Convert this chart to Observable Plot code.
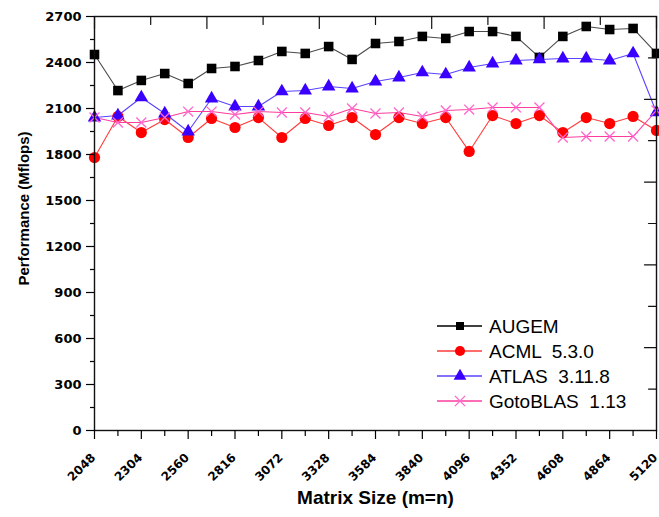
<!DOCTYPE html>
<html>
<head>
<meta charset="utf-8">
<script src="https://cdn.jsdelivr.net/npm/d3@7"></script>
<script src="https://cdn.jsdelivr.net/npm/@observablehq/plot@0.6"></script>
<style>
  html, body { margin: 0; padding: 0; background: #fff; }
  #wrap { position: relative; width: 659px; height: 517px; }
  #legend { position: absolute; left: 0; top: 0; pointer-events: none; }
</style>
</head>
<body>
<div id="wrap"></div>
<script>
// Matrix sizes (m=n)
const sizes = [2048, 2176, 2304, 2432, 2560, 2688, 2816, 2944, 3072, 3200, 3328, 3456, 3584,
               3712, 3840, 3968, 4096, 4224, 4352, 4480, 4608, 4736, 4864, 4992, 5120];
// Performance in Mflops
const augem = [2452, 2217, 2283, 2328, 2263, 2361, 2374, 2413, 2472, 2459, 2504, 2420, 2524,
               2537, 2570, 2557, 2602, 2602, 2570, 2433, 2570, 2635, 2615, 2622, 2459];
const acml  = [1780, 2048, 1943, 2028, 1911, 2035, 1976, 2041, 1911, 2035, 1989, 2041, 1930,
               2041, 2002, 2041, 1820, 2054, 2002, 2054, 1943, 2041, 2002, 2048, 1957];
const atlas = [2041, 2054, 2172, 2067, 1950, 2165, 2113, 2113, 2211, 2217, 2243, 2230, 2276,
               2302, 2335, 2322, 2367, 2393, 2413, 2420, 2426, 2426, 2413, 2459, 2074];
const gotoblas = [2041, 2009, 2009, 2041, 2080, 2080, 2061, 2080, 2074, 2074, 2048, 2100, 2067,
               2074, 2048, 2087, 2093, 2107, 2107, 2107, 1911, 1917, 1917, 1917, 2087];

const seriesNames = ["AUGEM", "ACML  5.3.0", "ATLAS  3.11.8", "GotoBLAS  1.13"];
const seriesValues = [augem, acml, atlas, gotoblas];
const lineColors = ["#4a4a4a", "#ff3b3b", "#5a44ff", "#ff3d9e"];
const markColors = ["#000000", "#ff0000", "#3a00ff", "#ff66cc"];
const symbols = ["square", "circle", "triangle", "times"];

const xTicks = d3.range(2048, 5120 + 1, 256);
const xMinor = d3.range(2048 + 128, 5120, 256);
const yTicks = d3.range(0, 2700 + 1, 300);
const yMinor = d3.range(150, 2700, 300);
const xTop = d3.range(0, 11).map(i => 2048 + i * 307.2);
const yRight = d3.range(0, 11).map(i => i * 270);

const data = seriesNames.flatMap((name, k) =>
  sizes.map((s, i) => ({series: name, k, size: s, value: seriesValues[k][i]})));

const tickShape = {draw(context, l) { context.moveTo(0, 0); context.lineTo(0, -l); }};

const marks = [];
seriesNames.forEach((name, k) => {
  const d = data.filter(r => r.k === k);
  marks.push(Plot.line(d, {x: "size", y: "value", stroke: lineColors[k], strokeWidth: 1.1}));
});
seriesNames.forEach((name, k) => {
  const d = data.filter(r => r.k === k);
  const sym = symbols[k];
  if (sym === "times") {
    marks.push(Plot.dot(d, {x: "size", y: "value", symbol: "times", r: 4.6, stroke: markColors[k], strokeWidth: 1.3}));
  } else {
    const r = sym === "square" ? 5.4 : sym === "circle" ? 5.6 : 5.0;
    marks.push(Plot.dot(d, {x: "size", y: "value", symbol: sym, r, fill: markColors[k], stroke: "none"}));
  }
});

const plot = Plot.plot({
  width: 659,
  height: 517,
  marginLeft: 94,
  marginRight: 3,
  marginTop: 16,
  marginBottom: 87,
  style: {fontFamily: "'Liberation Sans', Arial, sans-serif", background: "#fff", color: "#000"},
  x: {domain: [2048, 5120]},
  y: {domain: [0, 2700]},
  marks: [
    ...marks,
    Plot.frame({stroke: "#111", strokeWidth: 1.4}),
    Plot.axisY({ticks: yTicks, tickSize: 8, tickPadding: 5, label: null, tickFormat: d => String(d),
      fontSize: 13, fontWeight: "bold", fontFamily: "'DejaVu Sans', sans-serif", strokeWidth: 1.2}),
    Plot.axisY({ticks: yMinor, tickSize: 4, text: null, label: null, strokeWidth: 1.2}),
    Plot.axisX({ticks: xTicks, tickSize: 9, text: null, label: null, strokeWidth: 1.2}),
    Plot.axisX({ticks: xMinor, tickSize: 6, text: null, label: null, strokeWidth: 1.2}),
    Plot.text(xTicks, {x: d => d, frameAnchor: "bottom", rotate: -45, textAnchor: "end", lineAnchor: "middle",
      text: d => String(d), dy: 25, dx: -1, fontSize: 12, fontWeight: "bold", fontFamily: "'DejaVu Sans', sans-serif", fill: "#000"}),
    Plot.vector(xTop, {x: d => d, frameAnchor: "top", length: (d, i) => i % 2 ? 4 : 6, rotate: 180, anchor: "start", shape: tickShape, stroke: "#111", strokeWidth: 1.2}),
    Plot.vector(yRight, {y: d => d, frameAnchor: "right", length: (d, i) => i % 2 ? 4 : 6, rotate: 270, anchor: "start", shape: tickShape, stroke: "#111", strokeWidth: 1.2}),
    Plot.text(["Performance (Mflops)"], {frameAnchor: "left", textAnchor: "middle", lineAnchor: "middle", dx: -70, dy: -15, rotate: -90, fontSize: 15, fontWeight: "bold", fill: "#000"}),
    Plot.text(["Matrix Size (m=n)"], {frameAnchor: "bottom", textAnchor: "middle", lineAnchor: "middle", dy: 67, fontSize: 19, fontWeight: "bold", fill: "#000"})
  ]
});

const wrap = document.getElementById("wrap");
wrap.appendChild(plot);

// Legend overlay (inside plot area, lower right)
const leg = d3.select(wrap).append("svg").attr("id", "legend").attr("width", 659).attr("height", 517);
const rowY = [326, 351, 376, 401];
seriesNames.forEach((name, k) => {
  const g = leg.append("g").attr("transform", `translate(0,${rowY[k]})`);
  g.append("line").attr("x1", 437).attr("x2", 482).attr("y1", 0).attr("y2", 0)
    .attr("stroke", k === 0 ? "#000" : lineColors[k]).attr("stroke-width", 1.4);
  const symType = {square: d3.symbolSquare, circle: d3.symbolCircle, triangle: d3.symbolTriangle, times: d3.symbolTimes}[symbols[k]];
  const size = symbols[k] === "times" ? 70 : symbols[k] === "square" ? 64 : symbols[k] === "circle" ? 80 : 70;
  const p = g.append("path").attr("transform", "translate(460,0)").attr("d", d3.symbol(symType, size)());
  if (symbols[k] === "times") p.attr("fill", "none").attr("stroke", markColors[k]).attr("stroke-width", 1.3);
  else p.attr("fill", markColors[k]);
  g.append("text").attr("x", 489).attr("y", 0).attr("dy", "0.36em")
    .attr("font-family", "'Liberation Sans', Arial, sans-serif").attr("font-size", 19).attr("fill", "#000")
    .style("white-space", "pre").text(name);
});
</script>
</body>
</html>
